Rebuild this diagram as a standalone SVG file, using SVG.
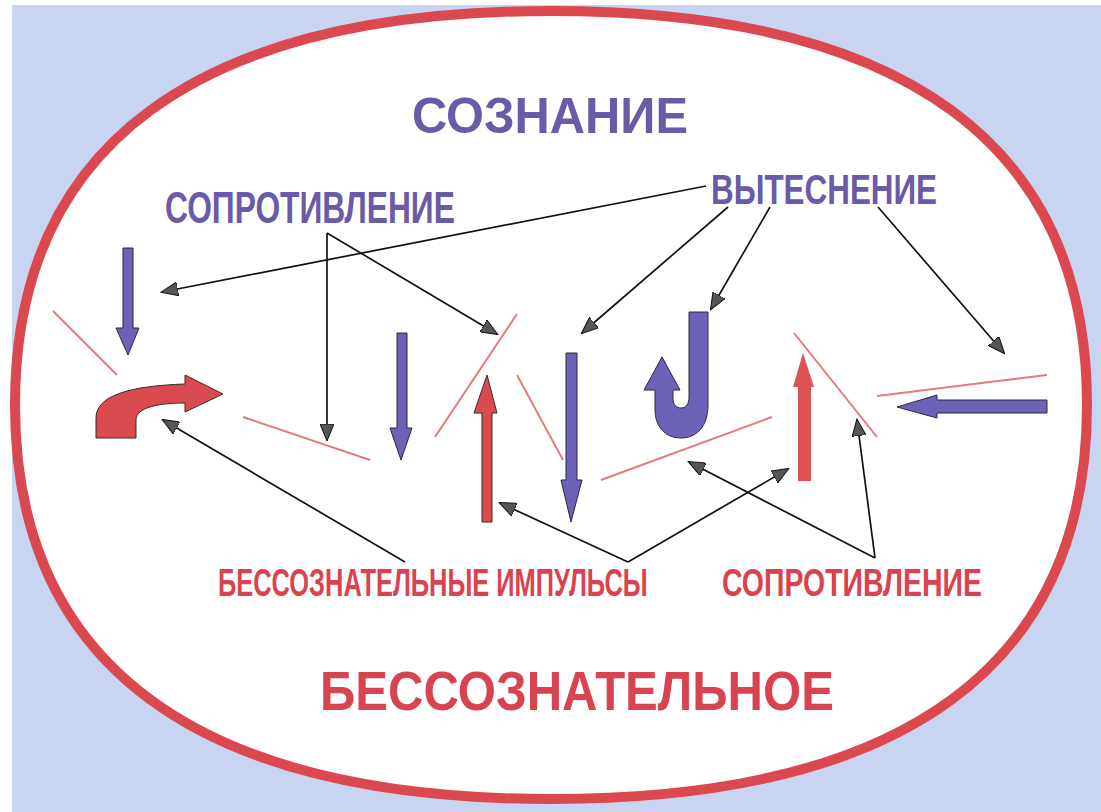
<svg xmlns="http://www.w3.org/2000/svg" width="1101" height="812" viewBox="0 0 1101 812">
<defs>
<style>
.t{font-family:"Liberation Sans",Arial,sans-serif;font-weight:bold}
.tp{fill:#6a5aa8}
.tr{fill:#d9434f}
.pa{fill:#6c62b8;stroke:#2a2a3a;stroke-width:1}
.ra{fill:#da4a4f;stroke:#3a2a2a;stroke-width:1}
.rl{stroke:#e57a7a;stroke-width:2;fill:none}
.c{stroke:#111;stroke-width:1.7;fill:none;marker-end:url(#ah)}
</style>
<marker id="ah" markerUnits="userSpaceOnUse" markerWidth="18" markerHeight="14" refX="16" refY="7" orient="auto">
<path d="M0,0 L17,7 L0,14 Z" fill="#555" stroke="#111" stroke-width="1"/>
</marker>
</defs>
<rect x="0" y="0" width="1101" height="812" fill="#ffffff"/>
<rect x="12" y="5" width="1089" height="807" fill="#c8d4f0"/>
<path id="oval" d="M 15 405 C 15 145, 197 11, 551 11 C 905 11, 1087 145, 1087 405 C 1087 665, 905 799, 551 799 C 197 799, 15 665, 15 405 Z" fill="#ffffff" stroke="#dc4850" stroke-width="10"/>

<g id="title-top"><text class="t tp" x="412" y="133" font-size="50" textLength="276" lengthAdjust="spacingAndGlyphs">СОЗНАНИЕ</text></g>
<g id="title-bottom"><text class="t tr" x="320" y="710" font-size="55" textLength="514" lengthAdjust="spacingAndGlyphs">БЕССОЗНАТЕЛЬНОЕ</text></g>
<g id="label-resist-top" transform="translate(165,223) scale(0.714,1)"><text class="t tp" x="0" y="0" font-size="44" textLength="406" lengthAdjust="spacingAndGlyphs">СОПРОТИВЛЕНИЕ</text></g>
<g id="label-repress" transform="translate(711,204) scale(0.756,1)"><text class="t tp" x="0" y="0" font-size="42" textLength="299" lengthAdjust="spacingAndGlyphs">ВЫТЕСНЕНИЕ</text></g>
<g id="label-impulses" transform="translate(218,596) scale(0.65,1)"><text class="t tr" x="0" y="0" font-size="39" textLength="661" lengthAdjust="spacingAndGlyphs">БЕССОЗНАТЕЛЬНЫЕ ИМПУЛЬСЫ</text></g>
<g id="label-resist-bottom" transform="translate(722,596) scale(0.722,1)"><text class="t tr" x="0" y="0" font-size="39" textLength="360" lengthAdjust="spacingAndGlyphs">СОПРОТИВЛЕНИЕ</text></g>

<g id="barriers">
<line class="rl" x1="53" y1="311" x2="117" y2="375"/>
<line class="rl" x1="243" y1="417" x2="370" y2="460"/>
<line class="rl" x1="435" y1="437" x2="517" y2="314"/>
<line class="rl" x1="517" y1="375" x2="563" y2="460"/>
<line class="rl" x1="601" y1="480" x2="772" y2="417"/>
<line class="rl" x1="794" y1="333" x2="877" y2="437"/>
<line class="rl" x1="877" y1="396" x2="1047" y2="375"/>
</g>

<g id="arrow-p1"><path class="pa" d="M123 248 H133 V328 H139 L128 355 L116 328 H123 Z"/></g>
<g id="arrow-r-curved"><path class="ra" d="M96 438 L96 418 C96 396, 128 386, 185 384 L185 375 L223 394 L185 412 L185 403 C160 403, 136 407, 136 420 L136 438 Z"/></g>
<g id="arrow-p2"><path class="pa" d="M397 333 H407 V428 H412 L401 460 L390 428 H397 Z"/></g>
<g id="arrow-r1"><path class="ra" d="M482 522 V413 H474 L487 375 L497 413 H492 V522 Z"/></g>
<g id="arrow-p3"><path class="pa" d="M566 353 H577 V480 H582 L571 522 L561 480 H566 Z"/></g>
<g id="arrow-p-hook"><path class="pa" d="M689 312 L708 312 L708 405 C708 426, 697 438, 681 438 C664 438, 655 425, 655 410 L655 390 L644 390 L662 357 L680 390 L673 390 L673 399 C673 405, 677 408, 681 408 C686 408, 689 404, 689 397 Z"/></g>
<g id="arrow-r2"><path fill="#de5252" d="M798 481 V387 H793 L803 353 L814 387 H811 V481 Z"/></g>
<g id="arrow-p-left"><path class="pa" d="M1047 400 V413 H937 V418 L897 407 L937 395 V400 Z"/></g>

<g id="connectors">
<line class="c" x1="706" y1="186" x2="162" y2="292"/>
<line class="c" x1="728" y1="207" x2="582" y2="333"/>
<line class="c" x1="770" y1="207" x2="711" y2="309"/>
<line class="c" x1="878" y1="207" x2="1004" y2="353"/>
<path class="c" d="M327 233 L327 440"/>
<line class="c" x1="327" y1="233" x2="497" y2="334"/>
<line class="c" x1="405" y1="562" x2="163" y2="420"/>
<line class="c" x1="628" y1="562" x2="500" y2="503"/>
<line class="c" x1="628" y1="562" x2="788" y2="469"/>
<line class="c" x1="875" y1="558" x2="689" y2="462"/>
<line class="c" x1="875" y1="558" x2="857" y2="420"/>
</g>
</svg>
